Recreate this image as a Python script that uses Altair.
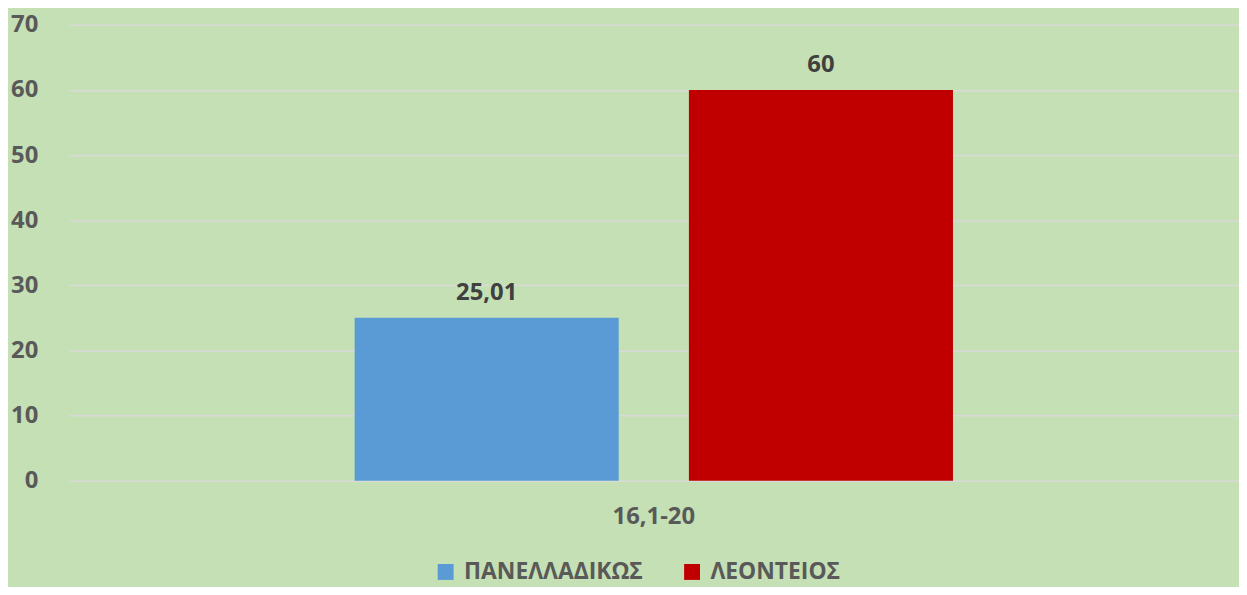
import altair as alt
import pandas as pd

categories = ["16,1-20"]
series = ["ΠΑΝΕΛΛΑΔΙΚΩΣ", "ΛΕΟΝΤΕΙΟΣ"]
values = [25.01, 60]
colors = ["#5B9BD5", "#C00000"]

def fmt(v):
    s = ("%g" % v)
    return s.replace(".", ",")

df = pd.DataFrame({
    "category": [categories[0]] * len(series),
    "series": series,
    "value": values,
    "label": [fmt(v) for v in values],
})

FONT = "Open Sans"
FS = 24

x = alt.X("category:N", title=None,
          scale=alt.Scale(paddingInner=0, paddingOuter=0.478),
          axis=alt.Axis(labelAngle=0, labelFontSize=FS, labelFontWeight="bold",
                        labelColor="#595959", labelFont=FONT, ticks=False,
                        domain=False, labelPadding=24))
xo = alt.XOffset("series:N", sort=series,
                 scale=alt.Scale(paddingInner=0.21, paddingOuter=0))
y = alt.Y("value:Q", title=None,
          scale=alt.Scale(domain=[0, 70], nice=False),
          axis=alt.Axis(values=list(range(0, 71, 10)), labelFontSize=FS,
                        labelFontWeight="bold", labelColor="#595959",
                        labelFont=FONT, ticks=False, domain=False,
                        gridColor="#D9D9D9", gridWidth=1.5, labelPadding=31))

color = alt.Color("series:N", sort=series,
                  scale=alt.Scale(domain=series, range=colors),
                  legend=alt.Legend(title=None, orient="none", direction="horizontal",
                                    legendX=368, legendY=539,
                                    symbolType="square", symbolSize=256,
                                    symbolStrokeWidth=0, symbolOpacity=1,
                                    labelFontSize=FS - 1, labelFontWeight="bold",
                                    labelColor="#595959", labelFont=FONT,
                                    labelLimit=0, labelOffset=7,
                                    columnPadding=37, padding=0))

bars = alt.Chart(df).mark_bar().encode(x=x, xOffset=xo, y=y, color=color)
text = alt.Chart(df).mark_text(baseline="bottom", dy=-13, fontSize=FS,
                               fontWeight="bold", color="#404040", font=FONT).encode(
    x=x, xOffset=xo, y=y, text="label:N")

chart = (bars + text).properties(
    width=1178, height=459,
    background="#C5E0B4",
    padding={"left": 61, "top": 15, "right": 0, "bottom": 105},
    autosize=alt.AutoSizeParams(type="none"),
).configure_view(stroke=None, fill="#C5E0B4")

chart.save("out.html", embed_options={"renderer": "svg", "actions": False})
